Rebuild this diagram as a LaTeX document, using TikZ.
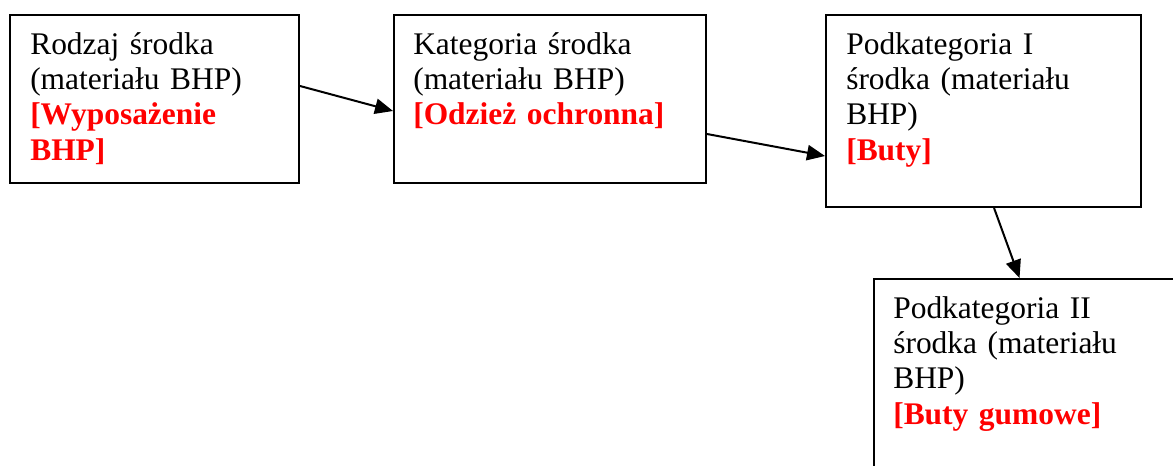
\documentclass[tikz,border=0pt]{standalone}
\usepackage{fontspec}
\setmainfont{Liberation Serif}
\usetikzlibrary{arrows.meta,positioning}
\definecolor{hotred}{RGB}{255,0,0}
\newcommand{\tag}[1]{\textcolor{hotred}{\textbf{#1}}}

\begin{document}
\begin{tikzpicture}[
  x=0.75pt, y=-0.75pt,
  font=\fontsize{23.6pt}{26.5pt}\selectfont,
  box/.style={draw, line width=1.5pt, anchor=north west, inner sep=0pt},
  txt/.style={anchor=base west, align=left, inner sep=0pt, text width=280pt},
  flow/.style={-{Triangle[length=13.5pt,width=11.5pt]}, line width=1.5pt}
]
\useasboundingbox (0,0) rectangle (1173,465);
\clip (0,0) rectangle (1173,465);

% ---- boxes ----
\node[box, minimum width=216.75pt, minimum height=126pt] (rodzaj) at (9,14) {};
\node[box, minimum width=234pt, minimum height=126pt] (kategoria) at (393,14) {};
\node[box, minimum width=236.25pt, minimum height=144pt] (podkat1) at (825,14) {};
\node[box, minimum width=232.5pt, minimum height=153pt] (podkat2) at (873,278) {};

% ---- texts ----
\node[txt] (rodzajtxt) at (30,54) {Rodzaj środka\\(materiału BHP)\\\tag{[Wyposażenie}\\\tag{BHP]}};
\node[txt] (kategoriatxt) at (413,54) {Kategoria środka\\(materiału BHP)\\\tag{[Odzież ochronna]}};
\node[txt] (podkat1txt) at (846,54) {Podkategoria I\\środka (materiału\\BHP)\\\tag{[Buty]}};
\node[txt] (podkat2txt) at (893,318) {Podkategoria II\\środka (materiału\\BHP)\\\tag{[Buty gumowe]}};

% edges
\draw[flow] ([yshift=9.75pt]rodzaj.east) -- ([yshift=-9pt]kategoria.west);
\draw[flow] ([yshift=-26.25pt]kategoria.east) -- ([yshift=-33.75pt]podkat1.west);
\draw[flow] ([xshift=7.9pt]podkat1.south) -- ([xshift=-7.1pt]podkat2.north);
\end{tikzpicture}
\end{document}
